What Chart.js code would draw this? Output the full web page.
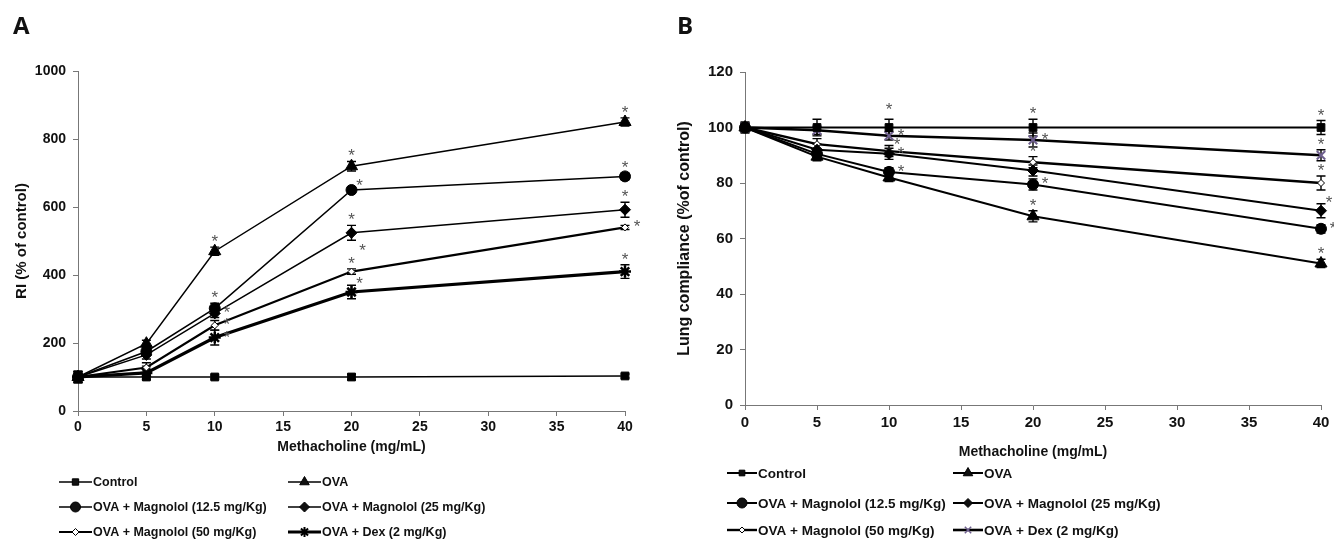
<!DOCTYPE html>
<html>
<head>
<meta charset="utf-8">
<script src="https://cdn.jsdelivr.net/npm/chart.js@4.4.1/dist/chart.umd.min.js"></script>
<style>
    body { margin: 0; background: #fff; width: 1334px; height: 541px; overflow: hidden; position: relative; }
    canvas { position: absolute; top: 0; }
    #chartA { left: 0; }
    #chartB { left: 660px; }
    .panel { position: absolute; top: 13px; font: bold 24px/1 'Open Sans', sans-serif; color: #111; }
</style>
</head>
<body>
<canvas id="chartA" width="660" height="541"></canvas>
<canvas id="chartB" width="674" height="541"></canvas>
<div class="panel" style="left:13px">A</div>
<div class="panel" style="left:677px">B</div>
<script>
// Shared categories
const doses = [0, 5, 10, 20, 40];
const groupNames = ['Control', 'OVA', 'OVA + Magnolol (12.5 mg/Kg)', 'OVA + Magnolol (25 mg/Kg)',
    'OVA + Magnolol (50 mg/Kg)', 'OVA + Dex (2 mg/Kg)'];

// Panel A - RI (% of control)
const riControl = [100, 100, 100, 100, 103];
const riOva = [100, 198, 470, 720, 850];
const riMag125 = [100, 175, 302, 650, 690];
const riMag25 = [100, 165, 287, 524, 592];
const riMag50 = [100, 128, 252, 410, 540];
const riDex = [100, 112, 216, 350, 410];

const riControlErr = [18, 6, 6, 8, 6];
const riOvaErr = [15, 10, 12, 14, 12];
const riMag125Err = [15, 10, 15, 10, 10];
const riMag25Err = [15, 12, 12, 22, 22];
const riMag50Err = [15, 14, 14, 8, 6];
const riDexErr = [15, 20, 22, 20, 20];

// significance marks (number of asterisks)
const riControlSig = [0, 0, 0, 0, 0];
const riOvaSig = [0, 0, 1, 1, 1];
const riMag125Sig = [0, 0, 1, 1, 1];
const riMag25Sig = [0, 0, 1, 2, 1];
const riMag50Sig = [0, 0, 1, 1, 1];
const riDexSig = [0, 0, 1, 1, 1];

const riTicks = [0, 200, 400, 600, 800, 1000];

// Panel B - Lung compliance (% of control)
const lcControl = [100, 100, 100, 100, 100];
const lcOva = [100, 89.5, 82, 68, 51];
const lcMag125 = [100, 90.5, 84, 79.5, 63.5];
const lcMag25 = [100, 92, 90.5, 84.5, 70];
const lcMag50 = [100, 94, 91.5, 87.5, 80];
const lcDex = [100, 99, 97, 95.5, 90];

const lcControlErr = [2, 3, 3, 3, 2.5];
const lcOvaErr = [1.5, 1.5, 1.5, 2, 1.5];
const lcMag125Err = [1.5, 1.5, 1.5, 2, 1.5];
const lcMag25Err = [1.5, 2, 2, 2, 2.5];
const lcMag50Err = [1.5, 2, 2, 2, 2.5];
const lcDexErr = [1.5, 1.5, 1.5, 2.5, 2];

const lcControlSig = [0, 0, 1, 1, 1];
const lcOvaSig = [0, 0, 0, 1, 1];
const lcMag125Sig = [0, 0, 1, 1, 1];
const lcMag25Sig = [0, 0, 1, 0, 1];
const lcMag50Sig = [0, 0, 1, 1, 1];
const lcDexSig = [0, 0, 1, 1, 1];

const lcTicks = [0, 20, 40, 60, 80, 100, 120];

const FONT = "'Liberation Sans', Arial, sans-serif";

// where each asterisk sits relative to its point (u = above, r = right, ur, dr)
const starPlaceA = [
    [],
    ['', '', 'u', 'u', 'u'],
    ['', '', 'u', 'ur', 'u'],
    ['', '', 'r', 'u+dr', 'u'],
    ['', '', 'r', 'u', 'r'],
    ['', '', 'r', 'ur', 'u']
];
const starPlaceB = [
    ['', '', 'uu', 'u', 'u'],
    ['', '', '', 'u', 'u'],
    ['', '', 'r', 'r', 'r'],
    ['', '', 'r', '', 'ur'],
    ['', '', 'ur', 'u', 'u'],
    ['', '', 'r', 'r', 'u']
];

function drawMarker(ctx, style, x, y) {
    ctx.save();
    ctx.fillStyle = style.fill || style.color || '#000';
    ctx.strokeStyle = style.color || '#000';
    ctx.lineWidth = style.borderWidth || 1;
    Chart.helpers.drawPoint(ctx, {
        pointStyle: style.pointStyle, radius: style.radius, rotation: 0, borderWidth: style.borderWidth || 1
    }, x, y);
    ctx.restore();
}

const extrasPlugin = {
    id: 'extras',
    beforeDatasetsDraw(chart, args, opts) {
        const ctx = chart.ctx;
        const yScale = chart.scales.y;
        ctx.save();
        ctx.strokeStyle = '#000';
        ctx.lineWidth = 1.4;
        chart.data.datasets.forEach((ds, i) => {
            const meta = chart.getDatasetMeta(i);
            meta.data.forEach((pt, j) => {
                const v = ds.data[j].y;
                const e = opts.errs[i][j];
                const top = yScale.getPixelForValue(v + e);
                const bot = yScale.getPixelForValue(v - e);
                ctx.beginPath();
                ctx.moveTo(pt.x, top); ctx.lineTo(pt.x, bot);
                ctx.moveTo(pt.x - 4.5, top); ctx.lineTo(pt.x + 4.5, top);
                ctx.moveTo(pt.x - 4.5, bot); ctx.lineTo(pt.x + 4.5, bot);
                ctx.stroke();
            });
        });
        ctx.restore();
    },
    afterDatasetsDraw(chart, args, opts) {
        const ctx = chart.ctx;
        const yScale = chart.scales.y;
        ctx.save();
        ctx.fillStyle = '#555';
        ctx.font = '17px ' + FONT;
        ctx.textAlign = 'center';
        ctx.textBaseline = 'alphabetic';
        opts.sig.forEach((arr, i) => {
            const meta = chart.getDatasetMeta(i);
            arr.forEach((s, j) => {
                if (!s) return;
                const pt = meta.data[j];
                const v = chart.data.datasets[i].data[j].y;
                const top = yScale.getPixelForValue(v + opts.errs[i][j]);
                const place = (opts.place[i] && opts.place[i][j]) || 'u';
                place.split('+').forEach(p => {
                    let x = pt.x, y;
                    if (p === 'u') { y = top - 10; }
                    else if (p === 'uu') { y = top - 14; }
                    else if (p === 'r') { x += 12; y = pt.y - 5; }
                    else if (p === 'ur') { x += 8; y = top - 6; }
                    else { x += 11; y = pt.y + 13; }
                    ctx.fillText('*', x, y + 10);
                });
            });
        });
        ctx.restore();
    },
    afterDraw(chart, args, opts) {
        const L = opts.legend;
        const ctx = chart.ctx;
        ctx.save();
        ctx.font = L.font;
        ctx.fillStyle = '#111';
        ctx.textAlign = 'left';
        ctx.textBaseline = 'middle';
        chart.data.datasets.forEach((ds, i) => {
            const x0 = L.cols[i % 2];
            const y = L.rows[Math.floor(i / 2)];
            ctx.strokeStyle = '#000';
            ctx.lineWidth = ds.borderWidth;
            ctx.beginPath();
            ctx.moveTo(x0, y);
            ctx.lineTo(x0 + L.len, y);
            ctx.stroke();
            drawMarker(ctx, L.markers[i], x0 + L.len / 2, y);
            ctx.fillText(groupNames[i], x0 + L.len + 1, y + 1);
        });
        ctx.restore();
    }
};

function buildDatasets(seriesList, styles) {
    return seriesList.map((vals, i) => ({
        label: groupNames[i],
        data: doses.map((d, j) => ({ x: d, y: vals[j] })),
        borderColor: '#000',
        borderWidth: styles[i].lineWidth,
        pointStyle: styles[i].pointStyle,
        pointRadius: styles[i].radius,
        pointBackgroundColor: styles[i].fill || styles[i].color || '#000',
        pointBorderColor: styles[i].color || '#000',
        pointBorderWidth: styles[i].borderWidth || 1,
        tension: 0,
        clip: false
    }));
}

function axisOptions(cfg) {
    return {
        x: {
            type: 'linear', min: 0, max: 40,
            afterFit: s => { s.height = cfg.xHeight; },
            ticks: { stepSize: 5, padding: cfg.xTickPad, color: '#111', font: { family: FONT, size: cfg.tickSize, weight: 'bold' } },
            grid: { drawOnChartArea: false, tickLength: 5, color: '#777' },
            border: { color: '#777', width: 1 },
            title: { display: true, text: 'Methacholine (mg/mL)', color: '#111', padding: 4,
                font: { family: FONT, size: cfg.xTitleSize, weight: 'bold' } }
        },
        y: {
            min: 0, max: cfg.yMax,
            afterFit: s => { s.width = cfg.yWidth; },
            afterBuildTicks: s => { s.ticks = cfg.yTicks.map(v => ({ value: v })); },
            ticks: { padding: 7, color: '#111', callback: v => String(v),
                font: { family: FONT, size: cfg.tickSize, weight: 'bold' } },
            grid: { drawOnChartArea: false, tickLength: 5, color: '#777' },
            border: { color: '#777', width: 1 },
            title: { display: true, text: cfg.yTitle, color: '#111', padding: { top: cfg.yTitlePad, bottom: 0 },
                font: { family: FONT, size: cfg.yTitleSize, weight: 'bold' } }
        }
    };
}

// Panel A
const stylesA = [
    { pointStyle: 'rect', radius: 5.5, lineWidth: 1.5 },
    { pointStyle: 'triangle', radius: 7, lineWidth: 1.5 },
    { pointStyle: 'circle', radius: 5.5, lineWidth: 1.5 },
    { pointStyle: 'rectRot', radius: 5.5, lineWidth: 1.5 },
    { pointStyle: 'rectRot', radius: 3.5, lineWidth: 2.2, fill: '#fff' },
    { pointStyle: 'star', radius: 6, lineWidth: 3.2, borderWidth: 2.5 }
];
const legendMarkersA = [
    { pointStyle: 'rect', radius: 4.5 },
    { pointStyle: 'triangle', radius: 5.5 },
    { pointStyle: 'circle', radius: 5 },
    { pointStyle: 'rectRot', radius: 5 },
    { pointStyle: 'rectRot', radius: 3.5, fill: '#fff' },
    { pointStyle: 'star', radius: 5, borderWidth: 2 }
];

new Chart(document.getElementById('chartA'), {
    type: 'line',
    data: { datasets: buildDatasets([riControl, riOva, riMag125, riMag25, riMag50, riDex], stylesA) },
    options: {
        responsive: false,
        animation: false,
        layout: { padding: { left: 0, right: 35, top: 71, bottom: 81 } },
        scales: axisOptions({ yMax: 1000, yTicks: riTicks, yTitle: 'RI (% of control)', yWidth: 78, xHeight: 49,
            tickSize: 14, xTickPad: 3, xTitleSize: 14, yTitleSize: 15, yTitlePad: 13 }),
        plugins: {
            legend: { display: false },
            tooltip: { enabled: false },
            extras: {
                errs: [riControlErr, riOvaErr, riMag125Err, riMag25Err, riMag50Err, riDexErr],
                sig: [riControlSig, riOvaSig, riMag125Sig, riMag25Sig, riMag50Sig, riDexSig],
                place: starPlaceA,
                legend: { font: 'bold 12.5px ' + FONT, cols: [59, 288], rows: [482, 507, 532], len: 33, markers: legendMarkersA }
            }
        }
    },
    plugins: [extrasPlugin]
});

// Panel B
const dexColor = '#6e5f8e';
const stylesB = [
    { pointStyle: 'rect', radius: 5.5, lineWidth: 2 },
    { pointStyle: 'triangle', radius: 7, lineWidth: 2 },
    { pointStyle: 'circle', radius: 5.5, lineWidth: 2 },
    { pointStyle: 'rectRot', radius: 5.5, lineWidth: 2 },
    { pointStyle: 'rectRot', radius: 3.5, lineWidth: 2.4, fill: '#fff' },
    { pointStyle: 'crossRot', radius: 6, lineWidth: 2.6, borderWidth: 2, color: dexColor }
];
const legendMarkersB = [
    { pointStyle: 'rect', radius: 4 },
    { pointStyle: 'triangle', radius: 5.5 },
    { pointStyle: 'circle', radius: 5 },
    { pointStyle: 'rectRot', radius: 4.5 },
    { pointStyle: 'rectRot', radius: 3, fill: '#fff' },
    { pointStyle: 'crossRot', radius: 4.5, borderWidth: 1.5, color: dexColor }
];

new Chart(document.getElementById('chartB'), {
    type: 'line',
    data: { datasets: buildDatasets([lcControl, lcOva, lcMag125, lcMag25, lcMag50, lcDex], stylesB) },
    options: {
        responsive: false,
        animation: false,
        layout: { padding: { left: 0, right: 13, top: 72, bottom: 76 } },
        scales: axisOptions({ yMax: 120, yTicks: lcTicks, yTitle: 'Lung compliance (%of control)', yWidth: 85, xHeight: 60,
            tickSize: 15, xTickPad: 4, xTitleSize: 14, yTitleSize: 16, yTitlePad: 15 }),
        plugins: {
            legend: { display: false },
            tooltip: { enabled: false },
            extras: {
                errs: [lcControlErr, lcOvaErr, lcMag125Err, lcMag25Err, lcMag50Err, lcDexErr],
                sig: [lcControlSig, lcOvaSig, lcMag125Sig, lcMag25Sig, lcMag50Sig, lcDexSig],
                place: starPlaceB,
                legend: { font: 'bold 13.5px ' + FONT, cols: [67, 293], rows: [473, 503, 530], len: 30, markers: legendMarkersB }
            }
        }
    },
    plugins: [extrasPlugin]
});
</script>
</body>
</html>
